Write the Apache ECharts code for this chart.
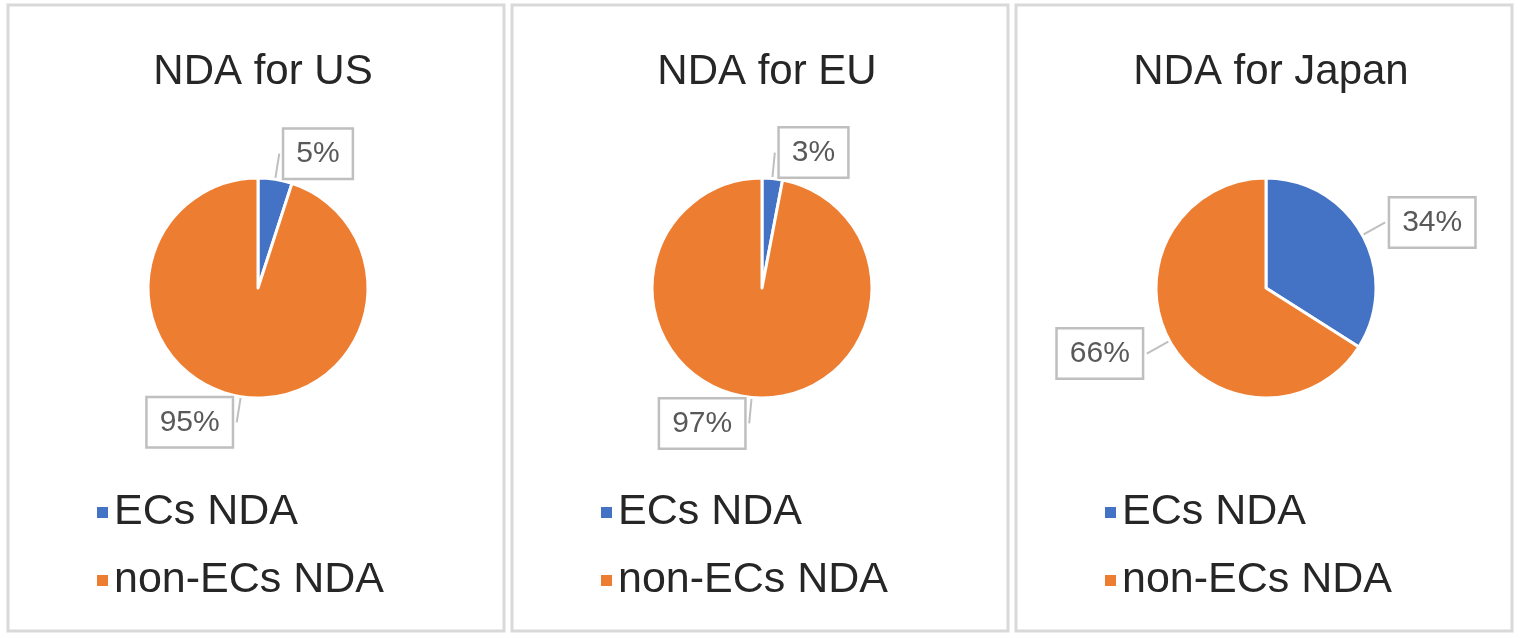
<!DOCTYPE html>
<html><head><meta charset="utf-8">
<script src="https://cdn.jsdelivr.net/npm/echarts@6/dist/echarts.min.js"></script>
<style>html,body{margin:0;padding:0;background:#fff}#c{width:1524px;height:638px}</style>
</head><body><div id="c"></div>
<script>
const categories = ['ECs NDA', 'non-ECs NDA'];
const titles = ['NDA for US', 'NDA for EU', 'NDA for Japan'];
const usValues = [5, 95];
const euValues = [3, 97];
const jpValues = [34, 66];
const allValues = [usValues, euValues, jpValues];
const colors = ['#4472C4', '#ED7D31'];

const panelX = [8, 512, 1016];
const panelW = 496;
const chart = echarts.init(document.getElementById('c'));
const txt = '#595959';
const ff = 'Liberation Sans, Arial';
chart.setOption({
  animation: false,
  color: colors,
  graphic: panelX.map(x => ({type:'rect', shape:{x:x, y:5, width:panelW, height:626},
    style:{fill:'none', stroke:'#d9d9d9', lineWidth:3}})),
  title: titles.map((t,i) => ({text: t, left: panelX[i] + panelW/2 + 2, top: 46, textAlign:'center',
    textStyle:{fontFamily:ff, fontSize:42, fontWeight:'normal', color:'#262626'}})),
  legend: titles.map((t,i) => ({orient:'vertical', left: panelX[i] + 82, top: 486, itemGap: 25,
    itemWidth: 13, itemHeight: 13, icon:'rect', data: categories,
    textStyle:{fontFamily:ff, fontSize:43, color:'#262626'}})),
  series: allValues.map((vals,i) => ({
    type:'pie', center:[panelX[i] + panelW/2 + 2, 288], radius: 110, startAngle: 90,
    clockwise: true,
    itemStyle:{borderColor:'#fff', borderWidth:3},
    label:{show:true, position:'outside', formatter:'{d}%', fontFamily:ff,
      fontSize:30, color:txt, backgroundColor:'#fff', borderColor:'#bfbfbf', borderWidth:2.5,
      padding:[10,12,8,12]},
    labelLine:{show:true, length:26, length2:0, lineStyle:{color:'#bfbfbf', width:2}},
    data: categories.map((c,j) => ({name:c, value: vals[j]}))
  }))
});
</script></body></html>
